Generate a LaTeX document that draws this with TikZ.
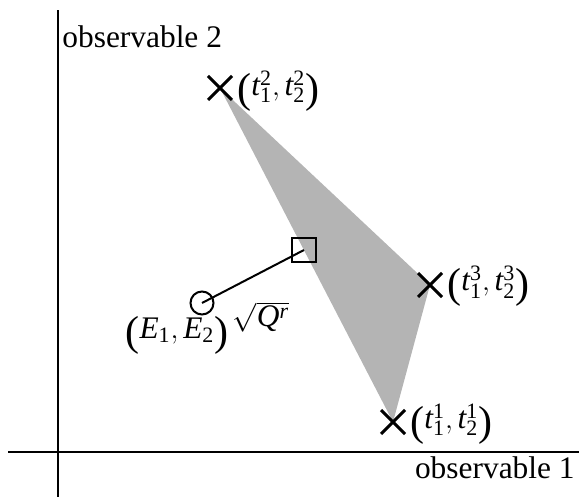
\documentclass[tikz,border=0pt]{standalone}
\usepackage{fontspec}
\setmainfont{Liberation Serif}
\usetikzlibrary{calc}
\newcommand\bigparL{\raisebox{-0.22em}{\fontsize{21}{22}\selectfont(}}
\newcommand\bigparR{\raisebox{-0.22em}{\fontsize{21}{22}\selectfont)}}
\begin{document}
\begin{tikzpicture}[x=0.5pt,y=-0.5pt,
  every node/.style={font=\fontsize{15.7}{18}\selectfont, inner sep=0pt},
  axis/.style={line width=1pt},
  cross/.style={line width=1.5pt},
  lab/.style={anchor=west}]
\useasboundingbox (0,0) rectangle (579,497);
% axes
\coordinate (yb) at (58,497); \coordinate (yt) at (58,10);
\coordinate (xl) at (8,452); \coordinate (xr) at (579,452);
\draw[axis] (yb) -- (yt);
\draw[axis] (xl) -- (xr);
\node[anchor=base west] (obs2) at (62,48) {observable 2};
\node[anchor=base east] (obs1) at (575,479) {observable 1};
% triangle
\coordinate (A) at (220,88);
\coordinate (B) at (430,285);
\coordinate (C) at (393,422);
\fill[fill={rgb,255:red,180;green,180;blue,180}] (A) -- (B) -- (C) -- cycle;
\foreach \p in {A,B,C}{
  \draw[cross] ($(\p)+(-12,-12)$) -- ($(\p)+(12,12)$);
  \draw[cross] ($(\p)+(-12,12)$) -- ($(\p)+(12,-12)$);
}
\node[lab] (lA) at (237,91) {\bigparL$\mathit{t}_{\mathrm{1}}^{\mathrm{2}},\mathit{t}_{\mathrm{2}}^{\mathrm{2}}$\bigparR};
\node[lab] (lB) at (447,286) {\bigparL$\mathit{t}_{\mathrm{1}}^{\mathrm{3}},\mathit{t}_{\mathrm{2}}^{\mathrm{3}}$\bigparR};
\node[lab] (lC) at (410,424) {\bigparL$\mathit{t}_{\mathrm{1}}^{\mathrm{1}},\mathit{t}_{\mathrm{2}}^{\mathrm{1}}$\bigparR};
% circle and square
\node[draw, circle, line width=1pt, minimum size=11.5pt] (E) at (202,303) {};
\node[draw, rectangle, line width=1pt, minimum size=12pt] (S) at (304,250) {};
\draw[line width=1pt] (E.center) -- (S.center);
\node[anchor=center] (lE) at (177,335) {\bigparL$\mathit{E}_{\mathrm{1}},\mathit{E}_{\mathrm{2}}$\bigparR};
\node[anchor=center] (lQ) at (261,317) {$\sqrt{\mathit{Q}^{\mathit{r}}}$};
\end{tikzpicture}
\end{document}
